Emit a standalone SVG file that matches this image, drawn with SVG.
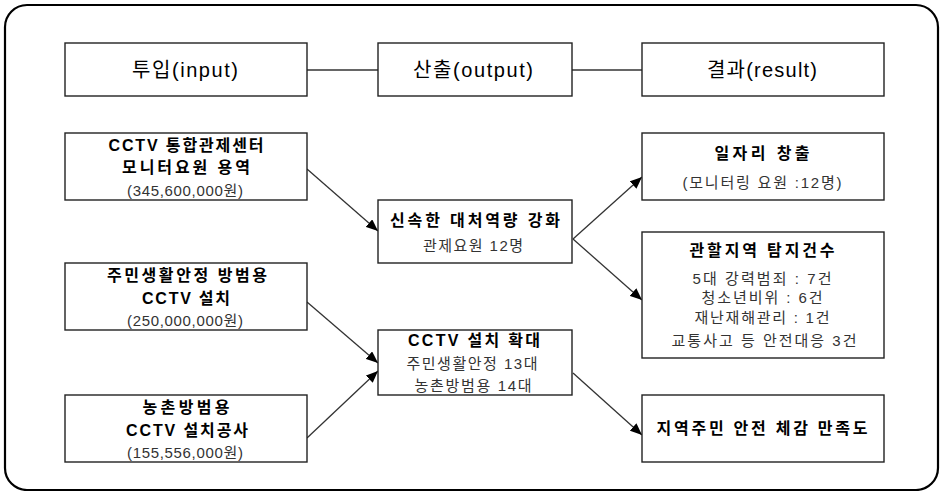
<svg xmlns="http://www.w3.org/2000/svg" width="940" height="491" viewBox="0 0 940 491">
<style>
.frame{fill:none;stroke:#000;stroke-width:2.2}
.box{fill:#fff;stroke:#222;stroke-width:1.4}
text{font-family:"Liberation Sans","Noto Sans CJK KR",sans-serif;text-anchor:middle;dominant-baseline:central}
.h{font-size:20px;fill:#000}
.b{font-size:16px;font-weight:bold;fill:#000}
.n{font-size:15px;fill:#333}
.c{stroke:#333;stroke-width:1.3;fill:none}
</style>
<defs>
<marker id="ah" markerUnits="userSpaceOnUse" markerWidth="13" markerHeight="10" refX="12" refY="5" orient="auto">
<path d="M0,0 L12,5 L0,10 Z" fill="#000"/>
</marker>
</defs>
<rect class="frame" x="5" y="5" width="933" height="485" rx="22" ry="22"/>
<g id="connectors">
<line class="c" x1="307" y1="70" x2="378" y2="70"/>
<line class="c" x1="572" y1="70" x2="642" y2="70"/>
<line class="c" x1="307" y1="169" x2="378" y2="231" marker-end="url(#ah)"/>
<line class="c" x1="307" y1="302" x2="378" y2="363" marker-end="url(#ah)"/>
<line class="c" x1="307" y1="438" x2="378" y2="371" marker-end="url(#ah)"/>
<line class="c" x1="573" y1="239" x2="642" y2="177" marker-end="url(#ah)"/>
<line class="c" x1="573" y1="239" x2="642" y2="300" marker-end="url(#ah)"/>
<line class="c" x1="573" y1="373" x2="642" y2="435" marker-end="url(#ah)"/>
</g>
<g id="h-input"><rect class="box" x="65" y="43" width="242" height="53"/><text class="h" x="185" y="70" textLength="106" lengthAdjust="spacing">투입(input)</text></g>
<g id="h-output"><rect class="box" x="378" y="43" width="194" height="53"/><text class="h" x="473" y="70" textLength="120" lengthAdjust="spacing">산출(output)</text></g>
<g id="h-result"><rect class="box" x="642" y="43" width="242" height="53"/><text class="h" x="762" y="70" textLength="110" lengthAdjust="spacing">결과(result)</text></g>
<g id="in1"><rect class="box" x="65" y="133" width="242" height="67"/>
<text class="b" x="186" y="145" textLength="155" lengthAdjust="spacing">CCTV 통합관제센터</text>
<text class="b" x="186" y="167" textLength="128" lengthAdjust="spacing">모니터요원 용역</text>
<text class="n" x="185" y="190" textLength="116" lengthAdjust="spacing">(345,600,000원)</text></g>
<g id="in2"><rect class="box" x="65" y="263" width="242" height="67"/>
<text class="b" x="187" y="275" textLength="160" lengthAdjust="spacing">주민생활안정 방범용</text>
<text class="b" x="186" y="298" textLength="88" lengthAdjust="spacing">CCTV 설치</text>
<text class="n" x="185" y="320" textLength="116" lengthAdjust="spacing">(250,000,000원)</text></g>
<g id="in3"><rect class="box" x="65" y="395" width="242" height="67"/>
<text class="b" x="186" y="407" textLength="87" lengthAdjust="spacing">농촌방범용</text>
<text class="b" x="187" y="430" textLength="122" lengthAdjust="spacing">CCTV 설치공사</text>
<text class="n" x="185" y="452" textLength="116" lengthAdjust="spacing">(155,556,000원)</text></g>
<g id="out1"><rect class="box" x="378" y="200" width="194" height="63"/>
<text class="b" x="475" y="220" textLength="170" lengthAdjust="spacing">신속한 대처역량 강화</text>
<text class="n" x="473" y="245" textLength="100" lengthAdjust="spacing">관제요원 12명</text></g>
<g id="out2"><rect class="box" x="378" y="330" width="194" height="65"/>
<text class="b" x="474" y="340" textLength="132" lengthAdjust="spacing">CCTV 설치 확대</text>
<text class="n" x="472" y="363" textLength="131" lengthAdjust="spacing">주민생활안정 13대</text>
<text class="n" x="473" y="385" textLength="117" lengthAdjust="spacing">농촌방범용 14대</text></g>
<g id="res1"><rect class="box" x="642" y="133" width="242" height="67"/>
<text class="b" x="762" y="153" textLength="95" lengthAdjust="spacing">일자리 창출</text>
<text class="n" x="762" y="182" textLength="159" lengthAdjust="spacing">(모니터링 요원 :12명)</text></g>
<g id="res2"><rect class="box" x="642" y="232" width="242" height="126"/>
<text class="b" x="762" y="250" textLength="145" lengthAdjust="spacing">관할지역 탐지건수</text>
<text class="n" x="762" y="278" textLength="139" lengthAdjust="spacing">5대 강력범죄 : 7건</text>
<text class="n" x="762" y="297" textLength="121" lengthAdjust="spacing">청소년비위 : 6건</text>
<text class="n" x="762" y="317" textLength="135" lengthAdjust="spacing">재난재해관리 : 1건</text>
<text class="n" x="764" y="340" textLength="185" lengthAdjust="spacing">교통사고 등 안전대응 3건</text></g>
<g id="res3"><rect class="box" x="642" y="395" width="242" height="67"/>
<text class="b" x="762" y="428" textLength="211" lengthAdjust="spacing">지역주민 안전 체감 만족도</text></g>
</svg>
